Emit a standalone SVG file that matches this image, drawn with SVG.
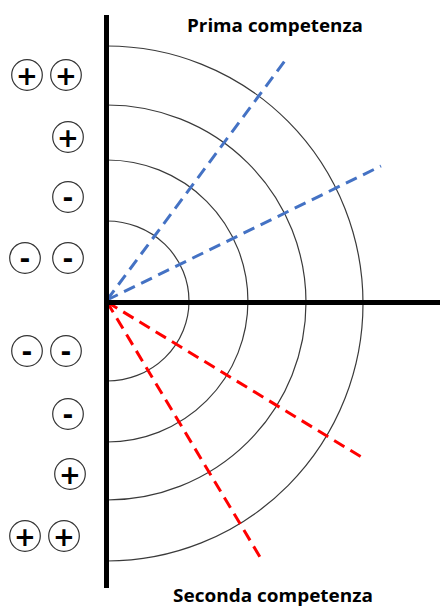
<svg xmlns="http://www.w3.org/2000/svg" width="440" height="607" viewBox="0 0 440 607">
<style>
.axis{stroke:#000;stroke-width:5;fill:none}
.ring{stroke:#3a3a3a;stroke-width:1.2;fill:none}
.blue{stroke:#4472C4;stroke-width:3;stroke-dasharray:12 7;fill:none}
.red{stroke:#FF0000;stroke-width:3;stroke-dasharray:12 7;fill:none}
.sc{fill:#fff;stroke:#333;stroke-width:1.2}
.sg{font-family:"DejaVu Sans",sans-serif;font-weight:700;font-size:26px;text-anchor:middle;fill:#000}
.title{font-family:"Open Sans","Liberation Sans",sans-serif;font-weight:700;font-size:18px;fill:#000}
</style>
<rect width="440" height="607" fill="#fff"/>
<g id="rings">
<path class="ring" d="M107,221 A82,80 0 0 1 107,381"/>
<path class="ring" d="M107,160 A141,141 0 0 1 107,442"/>
<path class="ring" d="M107,105 A199,197.5 0 0 1 107,500"/>
<path class="ring" d="M107,46 A256,257.5 0 0 1 107,561"/>
</g>
<g id="connectors">
<line class="blue" x1="107" y1="300" x2="287" y2="58"/>
<line class="blue" x1="107" y1="300" x2="381" y2="166"/>
<line class="red" x1="107" y1="302" x2="363" y2="458"/>
<line class="red" x1="107" y1="302" x2="263" y2="562"/>
</g>
<g id="axes">
<line class="axis" x1="106.5" y1="15" x2="106.5" y2="588"/>
<line class="axis" x1="104" y1="302.5" x2="440" y2="302.5"/>
</g>
<g id="title-prima"><text class="title" x="187" y="31.5" textLength="176" lengthAdjust="spacingAndGlyphs">Prima competenza</text></g>
<g id="title-seconda"><text class="title" x="173" y="602" textLength="200" lengthAdjust="spacingAndGlyphs">Seconda competenza</text></g>
<g id="s1a"><circle class="sc" cx="27" cy="75" r="15.3"/><text class="sg" x="27" y="85">+</text></g>
<g id="s1b"><circle class="sc" cx="66" cy="75" r="15.3"/><text class="sg" x="66" y="85">+</text></g>
<g id="s2"><circle class="sc" cx="68" cy="137" r="15.3"/><text class="sg" x="68" y="147">+</text></g>
<g id="s3"><circle class="sc" cx="68" cy="197" r="15.3"/><text class="sg" x="68" y="207">-</text></g>
<g id="s4a"><circle class="sc" cx="25" cy="258" r="15.3"/><text class="sg" x="25" y="268">-</text></g>
<g id="s4b"><circle class="sc" cx="68" cy="258" r="15.3"/><text class="sg" x="68" y="268">-</text></g>
<g id="s5a"><circle class="sc" cx="27" cy="351" r="15.3"/><text class="sg" x="27" y="361">-</text></g>
<g id="s5b"><circle class="sc" cx="66" cy="351" r="15.3"/><text class="sg" x="66" y="361">-</text></g>
<g id="s6"><circle class="sc" cx="68" cy="414" r="15.3"/><text class="sg" x="68" y="424">-</text></g>
<g id="s7"><circle class="sc" cx="70" cy="474" r="15.3"/><text class="sg" x="70" y="484">+</text></g>
<g id="s8a"><circle class="sc" cx="25" cy="536" r="15.3"/><text class="sg" x="25" y="546">+</text></g>
<g id="s8b"><circle class="sc" cx="64" cy="536" r="15.3"/><text class="sg" x="64" y="546">+</text></g>
</svg>
